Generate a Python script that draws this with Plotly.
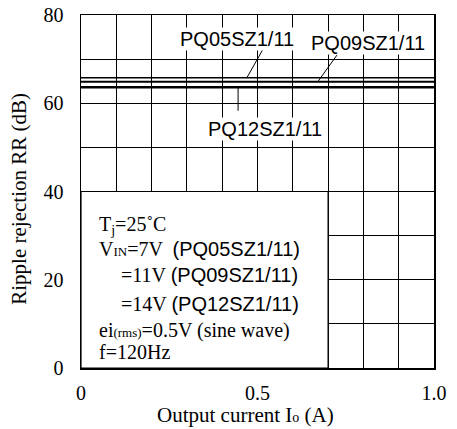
import plotly.graph_objects as go

# ---- data ----
current = [0.0, 1.0]
rr_pq05 = [65.8, 65.8]
rr_pq09 = [64.9, 64.9]
rr_pq12 = [63.6, 63.6]
series_names = ["PQ05SZ1/11", "PQ09SZ1/11", "PQ12SZ1/11"]
x_ticks = [0, 0.5, 1.0]
x_ticklabels = ["0", "0.5", "1.0"]
y_ticks = [0, 20, 40, 60, 80]
y_ticklabels = ["0", "20", "40", "60", "80"]
x_title = "Output current I<span style='font-size:14px'>o</span> (A)"
y_title = "Ripple rejection RR (dB)"

SERIF = "Liberation Serif, Times New Roman, serif"
SANS = "Liberation Sans, Arial, sans-serif"

fig = go.Figure()
for ys, w, name in zip([rr_pq05, rr_pq09, rr_pq12], [1.5, 2, 2.5], series_names):
    fig.add_trace(go.Scatter(x=current, y=ys, mode="lines", name=name,
                             line=dict(color="black", width=w), showlegend=False,
                             hoverinfo="skip"))

# condition box (blank region)
fig.add_shape(type="rect", x0=0, x1=0.7, y0=0, y1=40, xref="x", yref="y",
              fillcolor="white", line=dict(color="black", width=1.2), layer="above")

# leader lines
fig.add_shape(type="line", x0=0.47, y0=rr_pq05[0], x1=0.516, y1=72.3,
              line=dict(color="black", width=1))
fig.add_shape(type="line", x0=0.671, y0=rr_pq09[0], x1=0.725, y1=70.9,
              line=dict(color="black", width=1))
fig.add_shape(type="line", x0=0.445, y0=rr_pq12[0], x1=0.445, y1=58.3,
              line=dict(color="black", width=1))

lab_font = dict(family=SANS, size=20, color="black")
fig.add_annotation(x=0.442, y=74.6, text=series_names[0], showarrow=False,
                   font=lab_font, bgcolor="white", borderpad=0)
fig.add_annotation(x=0.812, y=73.6, text=series_names[1], showarrow=False,
                   font=lab_font, bgcolor="white", borderpad=0)
fig.add_annotation(x=0.521, y=54.2, text=series_names[2], showarrow=False,
                   font=lab_font, bgcolor="white", borderpad=0)

# condition text
tf = dict(family=SERIF, size=20, color="black")
def sans(s):
    return f"<span style='font-family:{SANS}'>{s}</span>"
def small(s):
    return f"<span style='font-size:13px'>{s}</span>"
cond = [
    (0.045, 32.2, "T" + "<sub>j</sub>" + "=25˚C"),
    (0.045, 27.0, "V" + small("IN") + "=7V  " + sans("(PQ05SZ1/11)")),
    (0.107, 21.1, "=11V " + sans("(PQ09SZ1/11)")),
    (0.107, 14.4, "=14V " + sans("(PQ12SZ1/11)")),
    (0.045, 8.4, "ei" + small("(rms)") + "=0.5V (sine wave)"),
    (0.045, 3.6, "f=120Hz"),
]
for x, y, t in cond:
    fig.add_annotation(x=x, y=y, text=t, showarrow=False, xanchor="left",
                       yanchor="middle", font=tf)

# axis titles
title_font = dict(family=SERIF, size=21, color="black")
fig.add_annotation(xref="paper", yref="paper", x=0.467, y=-0.133, text=x_title,
                   showarrow=False, xanchor="center", yanchor="middle", font=title_font)
fig.add_annotation(xref="paper", yref="paper", x=-0.178, y=0.48, text=y_title,
                   showarrow=False, xanchor="center", yanchor="middle", textangle=-90,
                   font=title_font)

axis_common = dict(showline=True, linecolor="black", linewidth=1.5, mirror=True,
                   showgrid=True, gridcolor="black", gridwidth=1, zeroline=False,
                   automargin=False, fixedrange=True,
                   ticks="", tickfont=dict(family=SERIF, size=20, color="black"))
fig.update_xaxes(range=[0, 1.0], tickvals=x_ticks, ticktext=x_ticklabels,
                 minor=dict(dtick=0.1, showgrid=True, gridcolor="black", gridwidth=1),
                 ticklabelstandoff=6, **axis_common)
fig.update_yaxes(range=[0, 80], tickvals=y_ticks, ticktext=y_ticklabels,
                 minor=dict(dtick=10, showgrid=True, gridcolor="black", gridwidth=1),
                 ticklabelstandoff=12, **axis_common)

fig.update_layout(width=457, height=429, plot_bgcolor="white", paper_bgcolor="white",
                  margin=dict(l=81, r=23, t=15, b=61), hovermode=False)
fig.write_html("out.html", config={"displayModeBar": False, "staticPlot": True},
               post_script="document.body.style.margin='0';document.body.style.overflow='hidden';")
